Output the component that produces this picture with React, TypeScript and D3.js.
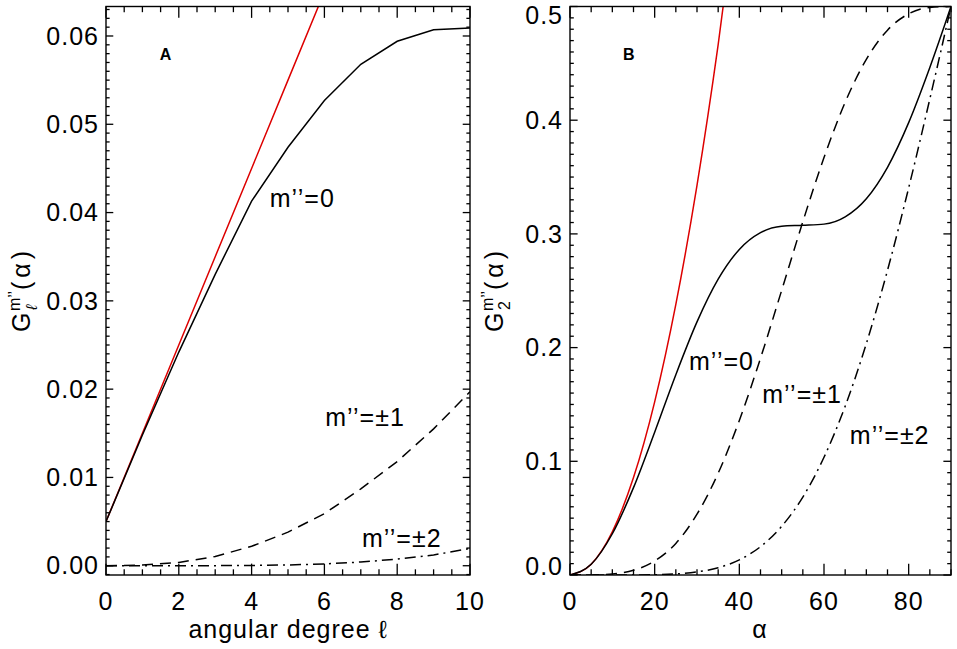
import { useEffect, useRef } from 'react';
import * as d3 from 'd3';

// ---- Panel A: G_l^{m''} against angular degree l ----
const degrees = [0, 1, 2, 3, 4, 5, 6, 7, 8, 9, 10];
const redA = [0.005, 0.015, 0.025, 0.035, 0.045, 0.055, 0.065, 0.075, 0.085, 0.095, 0.105];
const m0A = [0.005, 0.0148, 0.0242, 0.033, 0.0413, 0.0474, 0.0527, 0.0568, 0.0594, 0.0607, 0.0609];
const m1A = [0, 0.000075, 0.00037, 0.00105, 0.0022, 0.0038, 0.0059, 0.0087, 0.0118, 0.0155, 0.0197];
const m2A = [0, 0, 0.000001, 0.00001, 0.00003, 0.00009, 0.0002, 0.00042, 0.00075, 0.00122, 0.00195];

// ---- Panel B: G_2^{m''} against alpha (degrees) ----
const alphas = [0, 5, 10, 15, 20, 25, 30, 35, 40, 45, 50, 55, 60, 65, 70, 75, 80, 85, 90];
const m0B = [0, 0.009404, 0.036284, 0.076865, 0.12561, 0.176193, 0.222602, 0.260174, 0.286366, 0.301126,
  0.306788, 0.30755, 0.308594, 0.315051, 0.330983, 0.358603, 0.397837, 0.446349, 0.5];
const m1B = [0, 0.000054, 0.000844, 0.004112, 0.012317, 0.027762, 0.053456, 0.089546, 0.135932, 0.190641,
  0.250319, 0.310685, 0.367188, 0.415758, 0.453499, 0.4792, 0.493574, 0.499176, 0.5];
const m2B = [0, 0, 0.000004, 0.000048, 0.000262, 0.000957, 0.002712, 0.006427, 0.01333, 0.024912,
  0.042802, 0.06857, 0.103516, 0.148445, 0.203484, 0.267975, 0.340448, 0.418704, 0.5];
const redAlphas = [0, 5, 10, 15, 20, 25, 30, 35, 40];
const redB = [0, 0.009519, 0.038077, 0.085674, 0.152309, 0.237983, 0.342695, 0.466445, 0.609235];

const xTicksA = [0, 2, 4, 6, 8, 10];
const yTicksA = [0, 0.01, 0.02, 0.03, 0.04, 0.05, 0.06];
const xTicksB = [0, 20, 40, 60, 80];
const yTicksB = [0, 0.1, 0.2, 0.3, 0.4, 0.5];

const FONT = '"Liberation Sans", Arial, Helvetica, sans-serif';
const RED = '#dd0000';

interface Series {
  x: number[];
  y: number[];
  color: string;
  dash?: string;
  curve: d3.CurveFactory;
}

interface Note {
  text: string;
  x: number;
  y: number;
  bold?: boolean;
}

interface PanelSpec {
  id: string;
  left: number;
  right: number;
  top: number;
  bottom: number;
  xDomain: [number, number];
  yDomain: [number, number];
  xTicks: number[];
  yTicks: number[];
  xMinor: number;
  yMinor: number;
  xFormat: (d: number) => string;
  yFormat: (d: number) => string;
  series: Series[];
  notes: Note[];
}

const steps = (d0: number, d1: number, step: number) =>
  d3.range(Math.ceil(d0 / step - 1e-9), Math.floor(d1 / step + 1e-9) + 1).map(i => i * step);

function drawPanel(svg: d3.Selection<SVGSVGElement, unknown, null, undefined>, p: PanelSpec) {
  const x = d3.scaleLinear().domain(p.xDomain).range([p.left, p.right]);
  const y = d3.scaleLinear().domain(p.yDomain).range([p.bottom, p.top]);

  svg.append('defs').append('clipPath').attr('id', `clip-${p.id}`)
    .append('rect')
    .attr('x', p.left).attr('y', p.top)
    .attr('width', p.right - p.left).attr('height', p.bottom - p.top);

  const g = svg.append('g');

  p.series.forEach(s => {
    const line = d3.line<number>()
      .x((_, i) => x(s.x[i]))
      .y(d => y(d))
      .curve(s.curve);
    g.append('path')
      .datum(s.y)
      .attr('d', line)
      .attr('fill', 'none')
      .attr('stroke', s.color)
      .attr('stroke-width', 1.5)
      .attr('stroke-dasharray', s.dash ?? null)
      .attr('clip-path', `url(#clip-${p.id})`);
  });

  // frame
  g.append('rect')
    .attr('x', p.left).attr('y', p.top)
    .attr('width', p.right - p.left).attr('height', p.bottom - p.top)
    .attr('fill', 'none').attr('stroke', '#000').attr('stroke-width', 1.4);

  // ticks on all four sides
  const xLen = 0.02 * (p.bottom - p.top);
  const yLen = 0.02 * (p.right - p.left);
  const tick = (x1: number, y1: number, x2: number, y2: number) =>
    g.append('line').attr('x1', x1).attr('y1', y1).attr('x2', x2).attr('y2', y2)
      .attr('stroke', '#000').attr('stroke-width', 1.3);

  steps(p.xDomain[0], p.xDomain[1], p.xMinor).forEach(v => {
    const major = p.xTicks.some(t => Math.abs(t - v) < 1e-9);
    const len = major ? xLen : xLen / 2;
    tick(x(v), p.bottom, x(v), p.bottom - len);
    tick(x(v), p.top, x(v), p.top + len);
  });
  steps(p.yDomain[0], p.yDomain[1], p.yMinor).forEach(v => {
    const major = p.yTicks.some(t => Math.abs(t - v) < 1e-9);
    const len = major ? yLen : yLen / 2;
    tick(p.left, y(v), p.left + len, y(v));
    tick(p.right, y(v), p.right - len, y(v));
  });

  // tick labels
  const lab = svg.append('g')
    .attr('font-family', FONT).attr('font-size', 25).attr('letter-spacing', 1).attr('fill', '#000');
  p.xTicks.forEach(v => {
    lab.append('text').attr('x', x(v)).attr('y', 610).attr('text-anchor', 'middle').text(p.xFormat(v));
  });
  p.yTicks.forEach(v => {
    const cy = Math.min(Math.max(y(v), p.top + 9), p.bottom - 8.5);
    lab.append('text').attr('x', p.left - 7).attr('y', cy).attr('dy', '0.35em')
      .attr('text-anchor', 'end').text(p.yFormat(v));
  });

  // curve annotations and panel letter
  p.notes.forEach(n => {
    lab.append('text')
      .attr('x', x(n.x)).attr('y', y(n.y))
      .attr('font-size', n.bold ? 16 : 25)
      .attr('font-weight', n.bold ? 'bold' : null)
      .attr('letter-spacing', n.bold ? 0 : 1)
      .text(n.text);
  });
}

function yLabel(svg: d3.Selection<SVGSVGElement, unknown, null, undefined>, bx: number, cy: number, sub: string, italicSub: boolean) {
  const g = svg.append('g')
    .attr('transform', `translate(${bx},${cy}) rotate(-90)`)
    .attr('font-family', FONT).attr('fill', '#000');
  g.append('text').attr('x', -41).attr('y', 0).attr('font-size', 25).text('G');
  g.append('text').attr('x', -20).attr('y', -10).attr('font-size', 16).text('m’’');
  g.append('text').attr('x', -19).attr('y', 7).attr('font-size', 16)
    .attr('font-style', italicSub ? 'italic' : null).text(sub);
  g.append('text').attr('x', 1).attr('y', 0).attr('font-size', 25)
    .attr('textLength', 39).attr('lengthAdjust', 'spacing').text('(α)');
}

const panelA: PanelSpec = {
  id: 'a',
  left: 106, right: 470, top: 6.5, bottom: 575,
  xDomain: [0, 10],
  yDomain: [-0.00105, 0.06334],
  xTicks: xTicksA,
  yTicks: yTicksA,
  xMinor: 0.5,
  yMinor: 0.001,
  xFormat: d3.format('d'),
  yFormat: d3.format('.2f'),
  series: [
    { x: degrees, y: redA, color: RED, curve: d3.curveLinear },
    { x: degrees, y: m0A, color: '#000', curve: d3.curveLinear },
    { x: degrees, y: m1A, color: '#000', dash: '11,7', curve: d3.curveLinear },
    { x: degrees, y: m2A, color: '#000', dash: '11,5,2,5', curve: d3.curveLinear },
  ],
  notes: [
    { text: 'A', x: 1.48, y: 0.0573, bold: true },
    { text: 'm’’=0', x: 4.5, y: 0.0406 },
    { text: 'm’’=±1', x: 6.02, y: 0.0158 },
    { text: 'm’’=±2', x: 7.03, y: 0.00215 },
  ],
};

const panelB: PanelSpec = {
  id: 'b',
  left: 570, right: 951, top: 6.5, bottom: 575,
  xDomain: [0, 90],
  yDomain: [0, 0.5],
  xTicks: xTicksB,
  yTicks: yTicksB,
  xMinor: 5,
  yMinor: 0.01,
  xFormat: d3.format('d'),
  yFormat: d3.format('.1f'),
  series: [
    { x: redAlphas, y: redB, color: RED, curve: d3.curveMonotoneX },
    { x: alphas, y: m0B, color: '#000', curve: d3.curveMonotoneX },
    { x: alphas, y: m1B, color: '#000', dash: '11,7', curve: d3.curveMonotoneX },
    { x: alphas, y: m2B, color: '#000', dash: '11,5,2,5', curve: d3.curveMonotoneX },
  ],
  notes: [
    { text: 'B', x: 12.5, y: 0.4529, bold: true },
    { text: 'm’’=0', x: 28.1, y: 0.1803 },
    { text: 'm’’=±1', x: 45.4, y: 0.1513 },
    { text: 'm’’=±2', x: 66.1, y: 0.1152 },
  ],
};

export default function App() {
  const svgRef = useRef<SVGSVGElement>(null);

  useEffect(() => {
    if (!svgRef.current) return;
    const svg = d3.select(svgRef.current);
    svg.selectAll('*').remove();

    drawPanel(svg, panelA);
    drawPanel(svg, panelB);

    // axis titles
    const t = svg.append('g')
      .attr('font-family', FONT).attr('font-size', 25).attr('letter-spacing', 1).attr('fill', '#000');
    t.append('text').attr('x', 288).attr('y', 638).attr('text-anchor', 'middle').text('angular degree ℓ');
    t.append('text').attr('x', 760).attr('y', 638).attr('text-anchor', 'middle').text('α');

    yLabel(svg, 30, 291, 'ℓ', true);
    yLabel(svg, 503, 291, '2', false);
  }, []);

  return (
    <svg
      ref={svgRef}
      width={957}
      height={649}
      style={{ position: 'absolute', left: 0, top: 0, background: '#fff' }}
    />
  );
}
